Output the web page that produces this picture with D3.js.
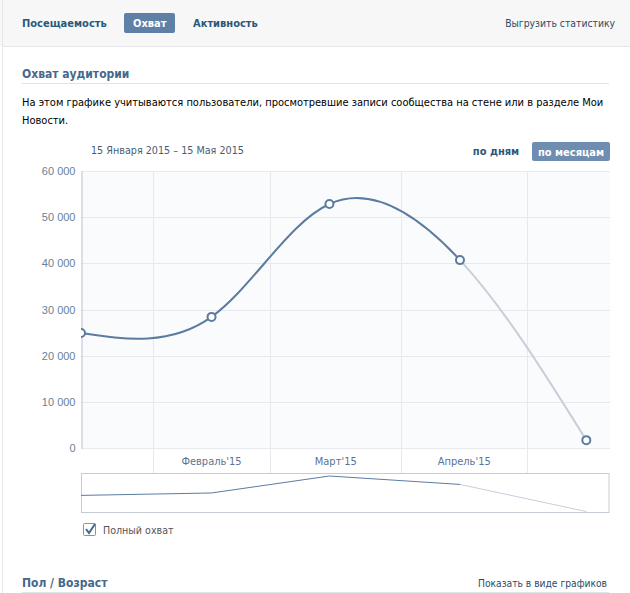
<!DOCTYPE html>
<html>
<head>
<meta charset="utf-8">
<script src="https://cdn.jsdelivr.net/npm/d3@7"></script>
<style>
  html, body { margin: 0; padding: 0; background: #fff; }
  svg { display: block; font-family: "DejaVu Sans Condensed", "DejaVu Sans", sans-serif; }
</style>
</head>
<body>
<svg id="chart" width="630" height="593"></svg>
<script>
// ---- data ----
const dates = ["2015-01-15", "2015-02-15", "2015-03-15", "2015-04-15", "2015-05-15"];
const reach = [24900, 28400, 52850, 40700, 1700];
const yTicks = [0, 10000, 20000, 30000, 40000, 50000, 60000];
const monthStarts = ["2015-02-01", "2015-03-01", "2015-04-01", "2015-05-01"];
const monthLabels = ["Февраль'15", "Март'15", "Апрель'15"];
const tabs = ["Посещаемость", "Охват", "Активность"];
const partialFrom = "2015-04-15"; // last, incomplete period drawn light

const parse = d3.utcParse("%Y-%m-%d");
const data = dates.map((d, i) => ({ date: parse(d), value: reach[i] }));

const svg = d3.select("#chart");
const W = 630, H = 593;

// ---- page frame ----
svg.append("rect").attr("x", 0).attr("y", 0).attr("width", W).attr("height", 46).attr("fill", "#f7f7f7");
svg.append("line").attr("x1", 2).attr("x2", W).attr("y1", 46.5).attr("y2", 46.5).attr("stroke", "#e4e6e9");
svg.append("line").attr("x1", 2.5).attr("x2", 2.5).attr("y1", 0).attr("y2", H).attr("stroke", "#e4e6e9");

// tabs
const tabX = [22, 133, 193];
svg.append("rect").attr("x", 124).attr("y", 13).attr("width", 51).attr("height", 20).attr("rx", 2).attr("fill", "#5e80a6");
tabs.forEach((t, i) => {
  svg.append("text").attr("x", tabX[i]).attr("y", 26.5)
    .attr("font-size", 11).attr("font-weight", "bold")
    .attr("fill", i === 1 ? "#fff" : "#2b587a").text(t);
});
svg.append("text").attr("x", 615).attr("y", 26.5).attr("text-anchor", "end")
  .attr("font-size", 10.3).attr("fill", "#2b4a68").text("Выгрузить статистику");

// section title
svg.append("text").attr("x", 22).attr("y", 78).attr("font-size", 12).attr("font-weight", "bold")
  .attr("fill", "#45688e").text("Охват аудитории");
svg.append("line").attr("x1", 22).attr("x2", 609).attr("y1", 83.5).attr("y2", 83.5).attr("stroke", "#dfe4ea");

svg.append("text").attr("x", 22).attr("y", 106).attr("font-size", 11).attr("fill", "#000")
  .text("На этом графике учитываются пользователи, просмотревшие записи сообщества на стене или в разделе Мои");
svg.append("text").attr("x", 22).attr("y", 124).attr("font-size", 11).attr("fill", "#000").text("Новости.");

svg.append("text").attr("x", 91).attr("y", 154).attr("font-size", 10.7).attr("fill", "#4a5d75")
  .text("15 Января 2015 – 15 Мая 2015");
svg.append("text").attr("x", 496).attr("y", 155).attr("text-anchor", "middle").attr("font-size", 11)
  .attr("font-weight", "bold").attr("fill", "#2b587a").text("по дням");
svg.append("rect").attr("x", 532).attr("y", 142).attr("width", 78).attr("height", 19).attr("rx", 2).attr("fill", "#6e8db1");
svg.append("text").attr("x", 571).attr("y", 155.5).attr("text-anchor", "middle").attr("font-size", 11)
  .attr("font-weight", "bold").attr("fill", "#fff").text("по месяцам");

// ---- scales ----
const plotL = 81, plotR = 610, plotT = 171, plotB = 448, bandB = 473, navT = 473, navB = 512;
const x = d3.scaleUtc().domain([parse("2015-01-15"), new Date(Date.UTC(2015, 4, 20, 15))]).range([plotL, plotR]);
const y = d3.scaleLinear().domain([0, 60000]).range([plotB, plotT]);
const yNav = d3.scaleLinear().domain(d3.extent(reach)).range([511.5, 476]);
const loc = d3.formatLocale({ decimal: ",", thousands: " ", grouping: [3], currency: ["", ""] });
const fmt = loc.format(",");

// plot background
svg.append("rect").attr("x", plotL).attr("y", plotT).attr("width", plotR - plotL).attr("height", plotB - plotT).attr("fill", "#fafbfc");

// horizontal grid
svg.append("g").selectAll("line").data(yTicks).join("line")
  .attr("x1", plotL).attr("x2", plotR)
  .attr("y1", d => Math.round(y(d)) + 0.5).attr("y2", d => Math.round(y(d)) + 0.5)
  .attr("stroke", "#e7e9ee");
// vertical grid (through label band)
svg.append("g").selectAll("line").data(monthStarts.map(parse)).join("line")
  .attr("x1", d => Math.round(x(d)) + 0.5).attr("x2", d => Math.round(x(d)) + 0.5)
  .attr("y1", plotT).attr("y2", bandB)
  .attr("stroke", "#e7e9ee");

// y axis
const yAxis = d3.axisLeft(y).tickValues(yTicks).tickFormat(fmt).tickSize(0).tickPadding(6);
const gy = svg.append("g").attr("transform", `translate(${plotL + 0.5},0)`).call(yAxis);
gy.select(".domain").attr("stroke", "#b9c4d1");
gy.selectAll("text").attr("font-size", 11).attr("fill", "#6a7f98").attr("font-family", "inherit");

// x labels centered in month bands
const ms = monthStarts.map(parse);
svg.append("g").selectAll("text").data(monthLabels).join("text")
  .attr("x", (d, i) => (x(ms[i]) + x(ms[i + 1])) / 2)
  .attr("y", 465).attr("text-anchor", "middle").attr("font-size", 11).attr("fill", "#5b7395")
  .text(d => d);

// ---- main line ----
const defs = svg.append("defs");
const splitX = x(parse(partialFrom));
defs.append("clipPath").attr("id", "clipDark").append("rect")
  .attr("x", plotL).attr("y", 0).attr("width", splitX - plotL).attr("height", H);
defs.append("clipPath").attr("id", "clipLight").append("rect")
  .attr("x", splitX).attr("y", 0).attr("width", plotR - splitX).attr("height", H);
defs.append("clipPath").attr("id", "clipPlot").append("rect")
  .attr("x", plotL).attr("y", plotT - 10).attr("width", plotR - plotL).attr("height", plotB - plotT + 20);

const line = d3.line().x(d => x(d.date)).y(d => y(d.value)).curve(d3.curveNatural);
svg.append("path").datum(data).attr("d", line).attr("fill", "none")
  .attr("stroke", "#c6cfda").attr("stroke-width", 2).attr("clip-path", "url(#clipLight)");
svg.append("path").datum(data).attr("d", line).attr("fill", "none")
  .attr("stroke", "#5b7ba0").attr("stroke-width", 2).attr("clip-path", "url(#clipDark)");

svg.append("g").attr("clip-path", "url(#clipPlot)").selectAll("circle").data(data).join("circle")
  .attr("cx", d => x(d.date)).attr("cy", d => y(d.value)).attr("r", 4)
  .attr("fill", "#fff").attr("stroke", "#5b7ba0").attr("stroke-width", 2);

// ---- navigator ----
svg.append("rect").attr("x", plotL + 0.5).attr("y", navT + 0.5).attr("width", plotR - plotL - 1.5).attr("height", navB - navT)
  .attr("fill", "#fff").attr("stroke", "#c5ccd6");
const navLine = d3.line().x(d => x(d.date)).y(d => yNav(d.value));
svg.append("path").datum(data).attr("d", navLine).attr("fill", "none")
  .attr("stroke", "#c6cfda").attr("stroke-width", 1).attr("clip-path", "url(#clipLight)");
svg.append("path").datum(data).attr("d", navLine).attr("fill", "none")
  .attr("stroke", "#5b7ba0").attr("stroke-width", 1).attr("clip-path", "url(#clipDark)");

// ---- legend checkbox ----
svg.append("rect").attr("x", 83.5).attr("y", 523.5).attr("width", 12).attr("height", 12).attr("rx", 1)
  .attr("fill", "#fff").attr("stroke", "#7f93aa");
svg.append("path").attr("d", "M86,529 L89,533 L95,524").attr("fill", "none")
  .attr("stroke", "#45688e").attr("stroke-width", 2);
svg.append("text").attr("x", 103).attr("y", 534).attr("font-size", 10.6).attr("fill", "#555").text("Полный охват");

// ---- next section ----
svg.append("text").attr("x", 22).attr("y", 587).attr("font-size", 12).attr("font-weight", "bold")
  .attr("fill", "#45688e").text("Пол / Возраст");
svg.append("text").attr("x", 607).attr("y", 587).attr("text-anchor", "end").attr("font-size", 10.2)
  .attr("fill", "#2b4a68").text("Показать в виде графиков");
svg.append("line").attr("x1", 22).attr("x2", 609).attr("y1", 592.5).attr("y2", 592.5).attr("stroke", "#dfe4ea");
</script>
</body>
</html>
